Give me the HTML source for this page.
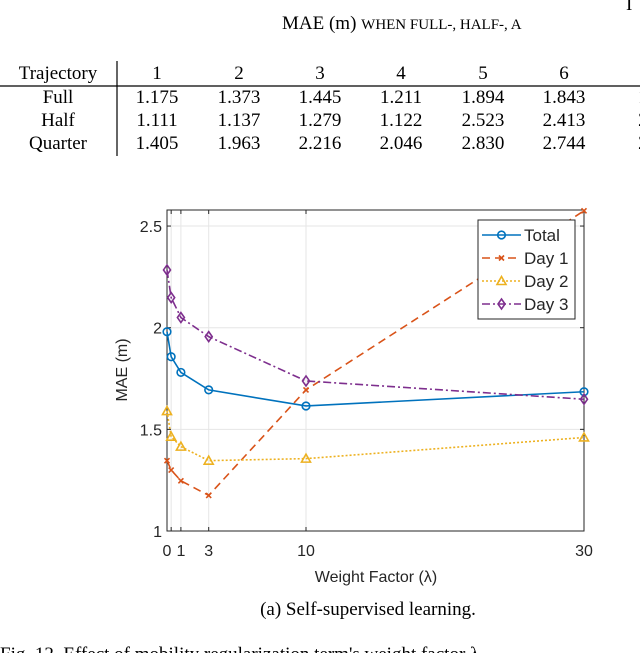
<!DOCTYPE html>
<html><head><meta charset="utf-8"><style>
html,body{margin:0;padding:0;background:#fff;width:640px;height:653px;overflow:hidden}
svg{display:block}
.serif{font-family:"Liberation Serif",serif;fill:#000}
.sans{font-family:"Liberation Sans",sans-serif;fill:#262626}
</style></head><body>
<svg id="page" width="640" height="653" viewBox="0 0 640 653" xmlns="http://www.w3.org/2000/svg">
<g class="serif" font-size="19">
  <text x="626" y="10">I</text>
  <text x="282" y="29">MAE (m) <tspan font-size="15">WHEN FULL-, HALF-, A</tspan></text>
  <line x1="0" y1="86" x2="640" y2="86" stroke="#000" stroke-width="1.2"/>
  <line x1="117" y1="61" x2="117" y2="156" stroke="#000" stroke-width="1.2"/>
  <g id="tbl"></g>
</g>
<g id="chart"></g>
<text class="serif" font-size="19" x="368" y="615" text-anchor="middle">(a) Self-supervised learning.</text>
<text class="serif" font-size="19" x="0" y="660">Fig. 12.  Effect of mobility regularization term's weight factor λ</text>
</svg>
<script>
const rowNames=["Trajectory","Full","Half","Quarter"];
const colHeads=["1","2","3","4","5","6","7"];
const fullRow=["1.175","1.373","1.445","1.211","1.894","1.843","1.8"];
const halfRow=["1.111","1.137","1.279","1.122","2.523","2.413","2.3"];
const quarterRow=["1.405","1.963","2.216","2.046","2.830","2.744","2.4"];

const xVals=[0,0.3,1,3,10,30];
const totalVals=[1.98,1.857,1.78,1.694,1.615,1.685];
const day1Vals=[1.346,1.30,1.247,1.175,1.694,2.575];
const day2Vals=[1.59,1.464,1.415,1.346,1.356,1.46];
const day3Vals=[2.284,2.148,2.05,1.956,1.738,1.648];
const xTicks=[0,1,3,10,30];
const yTicks=[1,1.5,2,2.5];
const seriesNames=["Total","Day 1","Day 2","Day 3"];

const NS="http://www.w3.org/2000/svg";
function mk(t,a,p){const e=document.createElementNS(NS,t);for(const k in a)e.setAttribute(k,a[k]);p.appendChild(e);return e;}

const tbl=document.getElementById('tbl');
const rowY=[79,103,126,149];
const colX=[157,239,320,401,483,564,650];
const rows=[colHeads,fullRow,halfRow,quarterRow];
rowNames.forEach((n,i)=>{const t=mk('text',{x:58,y:rowY[i],'text-anchor':'middle'},tbl);


t.textContent=n;});
rows.forEach((r,i)=>r.forEach((v,j)=>{const t=mk('text',{x:colX[j],y:rowY[i],'text-anchor':'middle'},tbl);


t.textContent=v;}));

const g=document.getElementById('chart');
const X0=167,X1=584,Y0=531,Y1=210;
const xs=v=>X0+(X1-X0)*v/30;
const ys=v=>Y0-(v-1)*203.3;
mk('rect',{x:X0,y:Y1,width:X1-X0,height:Y0-Y1,fill:'#fff'},g);
xVals.forEach(v=>{const l=mk('line',{x1:xs(v),x2:xs(v),y1:Y1,y2:Y0,stroke:'#e6e6e6','stroke-width':1},g);

});
yTicks.forEach(v=>{const l=mk('line',{x1:X0,x2:X1,y1:ys(v),y2:ys(v),stroke:'#e6e6e6','stroke-width':1},g);

});
const ax=mk('rect',{x:X0,y:Y1,width:X1-X0,height:Y0-Y1,fill:'none',stroke:'#262626','stroke-width':1},g);


xVals.forEach(v=>{mk('line',{x1:xs(v),x2:xs(v),y1:Y0,y2:Y0-4,stroke:'#262626'},g);mk('line',{x1:xs(v),x2:xs(v),y1:Y1,y2:Y1+4,stroke:'#262626'},g);});
yTicks.forEach(v=>{mk('line',{x1:X0,x2:X0+4,y1:ys(v),y2:ys(v),stroke:'#262626'},g);mk('line',{x1:X1,x2:X1-4,y1:ys(v),y2:ys(v),stroke:'#262626'},g);});
xTicks.forEach(v=>{const t=mk('text',{x:xs(v),y:556,'text-anchor':'middle','font-size':16,class:'sans'},g);


t.textContent=v;});
yTicks.forEach(v=>{const t=mk('text',{x:X0-5,y:ys(v)+6,'text-anchor':'end','font-size':16,class:'sans'},g);


t.textContent=v;});
const xt=mk('text',{x:376,y:582,'text-anchor':'middle','font-size':16,class:'sans'},g);


xt.textContent='Weight Factor (λ)';
const yt=mk('text',{x:0,y:0,'text-anchor':'middle','font-size':16,class:'sans',transform:'translate(127,370) rotate(-90)'},g);


yt.textContent='MAE (m)';

const styles=[
 {c:'#0072BD',d:'',m:'o'},
 {c:'#D95319',d:'8,5',m:'x'},
 {c:'#EDB120',d:'2,2',m:'^'},
 {c:'#7E2F8E',d:'8,3,2,3',m:'d'}];
function marker(type,x,y,c,p){
 if(type==='o')return mk('circle',{cx:x,cy:y,r:3.8,fill:'none',stroke:c,'stroke-width':1.6},p);
 if(type==='x'){const gg=mk('g',{},p);mk('path',{d:`M${x-2.5},${y-2.5}L${x+2.5},${y+2.5}M${x-2.5},${y+2.5}L${x+2.5},${y-2.5}`,stroke:c,'stroke-width':1.6},gg);return gg;}
 if(type==='^')return mk('path',{d:`M${x},${y-4.5}L${x+4.5},${y+3.5}L${x-4.5},${y+3.5}Z`,fill:'none',stroke:c,'stroke-width':1.6},p);
 return mk('path',{d:`M${x},${y-5}L${x+3.5},${y}L${x},${y+5}L${x-3.5},${y}Z`,fill:'none',stroke:c,'stroke-width':1.6},p);
}
const allSeries=[totalVals,day1Vals,day2Vals,day3Vals];
const snames=['series-total','series-day1','series-day2','series-day3'];
allSeries.forEach((vals,i)=>{
 const s=styles[i];
 const sg=mk('g',{},g);
 
 
 const pts=vals.map((v,j)=>xs(xVals[j])+','+ys(v)).join(' ');
 const pl=mk('polyline',{points:pts,fill:'none',stroke:s.c,'stroke-width':1.6,'stroke-dasharray':s.d},sg);
 
 
 vals.forEach((v,j)=>{const m=marker(s.m,xs(xVals[j]),ys(v),s.c,sg);
 
 });
});
const lg=mk('g',{},g);


mk('rect',{x:478,y:220,width:97,height:99,fill:'#fff',stroke:'#262626','stroke-width':1},lg);
seriesNames.forEach((n,i)=>{
 const y=235+i*23,s=styles[i];
 const eg=mk('g',{},lg);
 
 
 mk('line',{x1:482,x2:521,y1:y,y2:y,stroke:s.c,'stroke-width':1.6,'stroke-dasharray':s.d},eg);
 marker(s.m,501.5,y,s.c,eg);
 const t=mk('text',{x:524,y:y+6,'font-size':17,class:'sans',fill:'#000'},eg);
 t.textContent=n;
});
</script>
</body></html>
